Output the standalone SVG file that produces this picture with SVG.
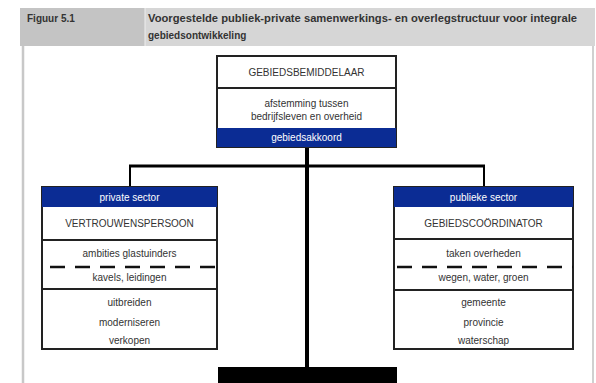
<svg xmlns="http://www.w3.org/2000/svg" width="596" height="383" viewBox="0 0 596 383">
<style>
  .t{font-family:"Liberation Sans",Arial,sans-serif;font-size:10px;fill:#333;text-anchor:middle}
  .w{font-family:"Liberation Sans",Arial,sans-serif;font-size:10px;fill:#fff;text-anchor:middle}
  .h{font-family:"Liberation Sans",Arial,sans-serif;font-size:10px;font-weight:bold;fill:#333}
  .box{fill:#fff;stroke:#222;stroke-width:2}
  .ln{stroke:#222;stroke-width:1.8}
  .dash{stroke:#111;stroke-width:2.5;stroke-dasharray:15 10}
  .blue{fill:#0b2c94}
</style>
<rect x="0" y="0" width="596" height="383" fill="#fff"/>
<g id="frame">
  <rect x="20" y="8" width="125" height="38" fill="#c4c4c4"/>
  <rect x="145" y="8" width="450" height="38" fill="#d6d6d6"/>
  <line x1="145" y1="8" x2="145" y2="46" stroke="#eee" stroke-width="1"/>
  <line x1="23" y1="46" x2="23" y2="383" stroke="#c8c8c8" stroke-width="2.5"/>
  <line x1="593" y1="46" x2="593" y2="383" stroke="#d0d0d0" stroke-width="2"/>
  <text class="h" x="27" y="22">Figuur 5.1</text>
  <text class="h" x="148" y="22" textLength="429" lengthAdjust="spacingAndGlyphs">Voorgestelde publiek-private samenwerkings- en overlegstructuur voor integrale</text>
  <text class="h" x="148" y="39">gebiedsontwikkeling</text>
</g>
<g id="connectors">
  <line x1="307" y1="147" x2="307" y2="368" stroke="#000" stroke-width="4"/>
  <line x1="129" y1="166" x2="485" y2="166" stroke="#000" stroke-width="3"/>
  <line x1="130" y1="165" x2="130" y2="187" stroke="#000" stroke-width="2"/>
  <line x1="484" y1="165" x2="484" y2="187" stroke="#000" stroke-width="2"/>
  <rect x="218" y="367" width="179" height="16" fill="#000"/>
</g>
<g id="gebiedsbemiddelaar">
  <rect class="box" x="217" y="56" width="179" height="91"/>
  <line class="ln" x1="217" y1="88" x2="396" y2="88"/>
  <rect class="blue" x="217" y="128" width="179" height="19"/>
  <text class="t" x="306.5" y="76">GEBIEDSBEMIDDELAAR</text>
  <text class="t" x="306.5" y="107">afstemming tussen</text>
  <text class="t" x="306.5" y="120">bedrijfsleven en overheid</text>
  <text class="w" x="306.5" y="141">gebiedsakkoord</text>
</g>
<g id="private-sector">
  <rect class="box" x="42" y="187" width="175" height="162"/>
  <rect class="blue" x="42" y="187" width="175" height="20"/>
  <line class="ln" x1="42" y1="240" x2="217" y2="240"/>
  <line class="dash" x1="50" y1="267" x2="217" y2="267"/>
  <line class="ln" x1="42" y1="289" x2="217" y2="289"/>
  <text class="w" x="129.5" y="201">private sector</text>
  <text class="t" x="129.5" y="227">VERTROUWENSPERSOON</text>
  <text class="t" x="129.5" y="257">ambities glastuinders</text>
  <text class="t" x="129.5" y="281">kavels, leidingen</text>
  <text class="t" x="129.5" y="306">uitbreiden</text>
  <text class="t" x="129.5" y="326">moderniseren</text>
  <text class="t" x="129.5" y="344">verkopen</text>
</g>
<g id="publieke-sector">
  <rect class="box" x="394" y="187" width="179" height="162"/>
  <rect class="blue" x="394" y="187" width="179" height="20"/>
  <line class="ln" x1="394" y1="239" x2="573" y2="239"/>
  <line class="dash" x1="397" y1="267" x2="573" y2="267"/>
  <line class="ln" x1="394" y1="290" x2="573" y2="290"/>
  <text class="w" x="483.5" y="201">publieke sector</text>
  <text class="t" x="483.5" y="227">GEBIEDSCOÖRDINATOR</text>
  <text class="t" x="483.5" y="257">taken overheden</text>
  <text class="t" x="483.5" y="281">wegen, water, groen</text>
  <text class="t" x="483.5" y="306">gemeente</text>
  <text class="t" x="483.5" y="326">provincie</text>
  <text class="t" x="483.5" y="344">waterschap</text>
</g>
</svg>
